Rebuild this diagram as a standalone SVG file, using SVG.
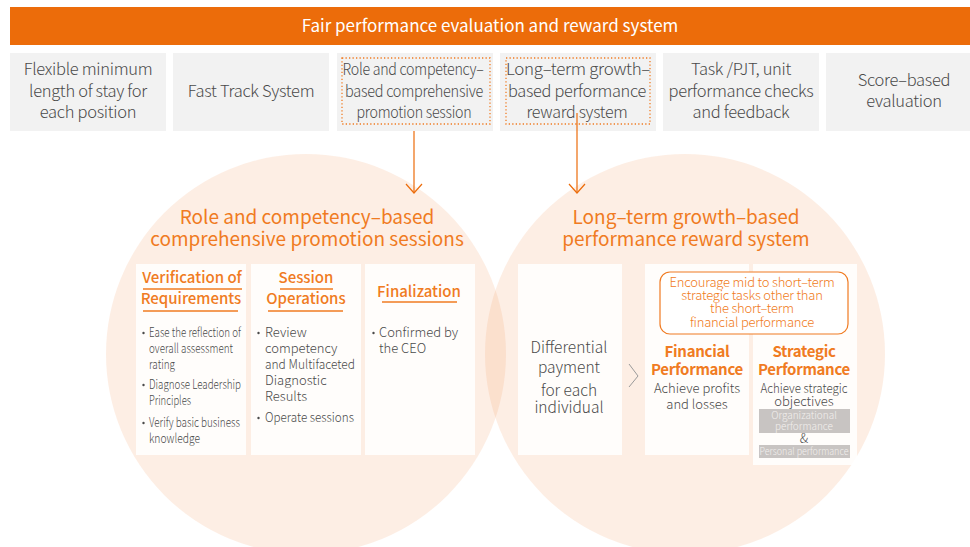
<svg xmlns="http://www.w3.org/2000/svg" width="970" height="547" viewBox="0 0 970 547">
<defs>
<style>
text{font-family:"Noto Sans CJK KR","Noto Sans",sans-serif;font-weight:300}
.box{fill:#F2F2F2}
.bt{font-size:16.5px;fill:#4a4a4a;text-anchor:middle;letter-spacing:-0.3px}
.dot{fill:none;stroke:#F07B22;stroke-width:1.3;stroke-dasharray:1.3 2.2}
.circ{fill:#F39B5E;fill-opacity:0.17}
.col{fill:#fff;fill-opacity:0.85}
.ttl{font-size:19px;fill:#F07B22;text-anchor:middle;font-weight:400}
.hd{font-size:15px;fill:#F07B22;text-anchor:middle;font-weight:500}
.ul{stroke:#F07B22;stroke-width:1.4}
.bl{font-size:13px;fill:#4a4a4a}
.bd{fill:#4a4a4a}
.con{stroke:#EC6C0A;stroke-width:1.2;fill:none}
.ct{font-size:15.5px;fill:#4a4a4a;text-anchor:middle}
.oh{font-size:15px;fill:#F07B22;text-anchor:middle;font-weight:700;letter-spacing:-0.3px}
.gt{font-size:13px;fill:#4a4a4a;text-anchor:middle}
.cl{font-size:13px;fill:#F07B22;text-anchor:middle;letter-spacing:-0.2px}
.gb{fill:#C8C4C2}
.wt{font-size:10px;fill:#F3F0EE;text-anchor:middle}
</style>
</defs>
<rect width="970" height="547" fill="#fff"/>

<g id="header">
<rect x="10" y="7" width="960" height="38" fill="#EC6C0A"/>
<text x="490" y="32" font-size="17" fill="#fff" text-anchor="middle" style="font-weight:400">Fair performance evaluation and reward system</text>
</g>

<g id="box-flexible">
<rect class="box" x="10" y="53" width="156" height="78"/>
<text class="bt" x="88" y="75">Flexible minimum</text>
<text class="bt" x="88" y="97">length of stay for</text>
<text class="bt" x="88" y="118">each position</text>
</g>
<g id="box-fasttrack">
<rect class="box" x="173" y="53" width="156" height="78"/>
<text class="bt" x="251" y="97">Fast Track System</text>
</g>
<g id="box-role">
<rect class="box" x="337" y="53" width="156" height="78"/>
<rect class="dot" x="342" y="58" width="148" height="66"/>
<text class="bt" x="413" y="75" textLength="141" lengthAdjust="spacingAndGlyphs">Role and competency–</text>
<text class="bt" x="414" y="97" textLength="138" lengthAdjust="spacingAndGlyphs">based comprehensive</text>
<text class="bt" x="414" y="118" textLength="115" lengthAdjust="spacingAndGlyphs">promotion session</text>
</g>
<g id="box-longterm">
<rect class="box" x="500" y="53" width="156" height="78"/>
<rect class="dot" x="506" y="58" width="144" height="66"/>
<text class="bt" x="578" y="75" textLength="144" lengthAdjust="spacingAndGlyphs">Long–term growth–</text>
<text class="bt" x="577" y="97" textLength="138" lengthAdjust="spacingAndGlyphs">based performance</text>
<text class="bt" x="577" y="118" textLength="101" lengthAdjust="spacingAndGlyphs">reward system</text>
</g>
<g id="box-task">
<rect class="box" x="663" y="53" width="156" height="78"/>
<text class="bt" x="741" y="75">Task /PJT, unit</text>
<text class="bt" x="741" y="97">performance checks</text>
<text class="bt" x="741" y="118">and feedback</text>
</g>
<g id="box-score">
<rect class="box" x="826" y="53" width="144" height="78"/>
<text class="bt" x="904" y="86">Score–based</text>
<text class="bt" x="904" y="107">evaluation</text>
</g>

<g id="circle-promotion">
<circle class="circ" cx="306" cy="354" r="200"/>
</g>
<g id="circle-reward">
<circle class="circ" cx="685" cy="354" r="200"/>
</g>

<g id="connectors">
<line class="con" x1="414" y1="131" x2="414" y2="193"/>
<polyline class="con" points="406,184 414,193 422,184"/>
<line class="con" x1="577" y1="113" x2="577" y2="193"/>
<polyline class="con" points="569,184 577,193 585,184"/>
</g>

<g id="title-promotion">
<text class="ttl" x="307" y="224">Role and competency–based</text>
<text class="ttl" x="307" y="246">comprehensive promotion sessions</text>
</g>
<g id="title-reward">
<text class="ttl" x="686" y="224">Long–term growth–based</text>
<text class="ttl" x="686" y="246">performance reward system</text>
</g>

<g id="col-verification">
<rect class="col" x="136" y="264" width="110" height="191"/>
<text class="hd" x="192" y="283">Verification of</text>
<line class="ul" x1="143" y1="289" x2="242" y2="289"/>
<text class="hd" x="191" y="304">Requirements</text>
<line class="ul" x1="143" y1="311" x2="238" y2="311"/>
<circle class="bd" cx="143.5" cy="333" r="1.2"/>
<text class="bl" x="149" y="337" textLength="92" lengthAdjust="spacingAndGlyphs">Ease the reflection of</text>
<text class="bl" x="149" y="353" textLength="84" lengthAdjust="spacingAndGlyphs">overall assessment</text>
<text class="bl" x="149" y="369" textLength="26" lengthAdjust="spacingAndGlyphs">rating</text>
<circle class="bd" cx="143.5" cy="385" r="1.2"/>
<text class="bl" x="149" y="389" textLength="92" lengthAdjust="spacingAndGlyphs">Diagnose Leadership</text>
<text class="bl" x="149" y="405" textLength="42" lengthAdjust="spacingAndGlyphs">Principles</text>
<circle class="bd" cx="143.5" cy="423" r="1.2"/>
<text class="bl" x="149" y="427" textLength="91" lengthAdjust="spacingAndGlyphs">Verify basic business</text>
<text class="bl" x="149" y="443" textLength="51" lengthAdjust="spacingAndGlyphs">knowledge</text>
</g>
<g id="col-session">
<rect class="col" x="251" y="264" width="110" height="191"/>
<text class="hd" x="306" y="283">Session</text>
<line class="ul" x1="280" y1="289" x2="333" y2="289"/>
<text class="hd" x="306" y="304">Operations</text>
<line class="ul" x1="268" y1="311" x2="343" y2="311"/>
<circle class="bd" cx="258.5" cy="333" r="1.2"/>
<text class="bl" x="265" y="337">Review</text>
<text class="bl" x="265" y="353">competency</text>
<text class="bl" x="265" y="369" textLength="90" lengthAdjust="spacingAndGlyphs">and Multifaceted</text>
<text class="bl" x="265" y="385">Diagnostic</text>
<text class="bl" x="265" y="401">Results</text>
<circle class="bd" cx="258.5" cy="418" r="1.2"/>
<text class="bl" x="265" y="422" textLength="89" lengthAdjust="spacingAndGlyphs">Operate sessions</text>
</g>
<g id="col-finalization">
<rect class="col" x="365" y="264" width="110" height="191"/>
<text class="hd" x="419" y="297">Finalization</text>
<line class="ul" x1="382" y1="302" x2="457" y2="302"/>
<circle class="bd" cx="373.5" cy="333" r="1.2"/>
<text class="bl" x="379" y="337">Confirmed by</text>
<text class="bl" x="379" y="353">the CEO</text>
</g>

<g id="col-differential">
<rect class="col" x="518" y="264" width="104" height="191"/>
<text class="ct" x="569" y="353">Differential</text>
<text class="ct" x="569" y="373">payment</text>
<text class="ct" x="569" y="396">for each</text>
<text class="ct" x="569" y="413">individual</text>
<polyline points="629,364 638,376 629,387" fill="none" stroke="#9a9a9a" stroke-width="1"/>
</g>
<g id="col-financial">
<rect class="col" x="645" y="264" width="104" height="191"/>
<text class="oh" x="697" y="357">Financial</text>
<text class="oh" x="697" y="375">Performance</text>
<text class="gt" x="697" y="393">Achieve profits</text>
<text class="gt" x="697" y="409">and losses</text>
</g>
<g id="col-strategic">
<rect class="col" x="753" y="264" width="104" height="201"/>
<text class="oh" x="804" y="357">Strategic</text>
<text class="oh" x="804" y="375">Performance</text>
<text class="gt" x="804" y="393" textLength="87" lengthAdjust="spacingAndGlyphs">Achieve strategic</text>
<text class="gt" x="804" y="406">objectives</text>
<rect class="gb" x="759" y="409" width="91" height="24"/>
<text class="wt" x="804" y="419">Organizational</text>
<text class="wt" x="804" y="430">performance</text>
<text x="804" y="443" font-size="13" fill="#4a4a4a" text-anchor="middle">&amp;</text>
<rect class="gb" x="759" y="445" width="91" height="13"/>
<text class="wt" x="804" y="455" textLength="89" lengthAdjust="spacingAndGlyphs">Personal performance</text>
</g>
<g id="callout">
<rect x="660" y="272" width="188" height="62" rx="10" fill="#fff" stroke="#F07B22" stroke-width="1.2"/>
<text class="cl" x="752" y="287">Encourage mid to short–term</text>
<text class="cl" x="752" y="300">strategic tasks other than</text>
<text class="cl" x="752" y="313">the short–term</text>
<text class="cl" x="752" y="327">financial performance</text>
</g>
</svg>
